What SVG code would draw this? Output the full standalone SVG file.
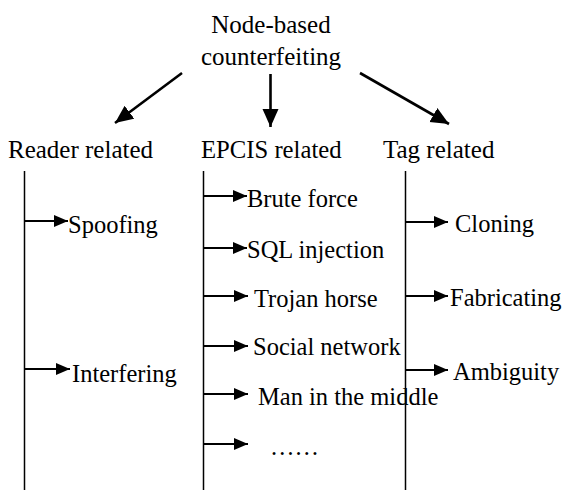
<svg xmlns="http://www.w3.org/2000/svg" width="566" height="490" viewBox="0 0 566 490">
<defs>
<marker id="sm" markerUnits="userSpaceOnUse" markerWidth="15" markerHeight="13" refX="14" refY="6" orient="auto" viewBox="0 0 15 13">
<path d="M0,0 L14,6 L0,12 z" fill="#000"/>
</marker>
<marker id="bm" markerUnits="userSpaceOnUse" markerWidth="19" markerHeight="17" refX="18" refY="8" orient="auto" viewBox="0 0 19 17">
<path d="M0,0 L18,8 L0,16 z" fill="#000"/>
</marker>
</defs>
<g id="nodes" font-family="Liberation Serif" fill="#000">
<g id="root" font-size="25"><text x="271" y="33" text-anchor="middle">Node-based</text><text x="271" y="65" text-anchor="middle">counterfeiting</text></g>
<g id="reader" font-size="25"><text x="8" y="158">Reader related</text></g>
<g id="epcis" font-size="24.7"><text x="201" y="158">EPCIS related</text></g>
<g id="tag" font-size="25"><text x="383" y="158">Tag related</text></g>
<g id="items" font-size="24.5">
<g id="spoofing"><text x="68" y="233">Spoofing</text></g>
<g id="interfering"><text x="72" y="382">Interfering</text></g>
<g id="brute"><text x="247" y="207">Brute force</text></g>
<g id="sql"><text x="247" y="258">SQL injection</text></g>
<g id="trojan"><text x="254" y="307">Trojan horse</text></g>
<g id="social"><text x="253" y="355">Social network</text></g>
<g id="mitm"><text x="258" y="405">Man in the middle</text></g>
<g id="more"><text x="270" y="455">……</text></g>
<g id="cloning"><text x="455" y="232">Cloning</text></g>
<g id="fabricating"><text x="450" y="306">Fabricating</text></g>
<g id="ambiguity"><text x="453" y="380">Ambiguity</text></g>
</g>
</g>
<g id="connectors" stroke="#000" fill="none">
<g stroke-width="2.6" marker-end="url(#bm)">
<line x1="182" y1="73" x2="115" y2="123"/>
<line x1="270.5" y1="74" x2="270.5" y2="127"/>
<line x1="360" y1="73" x2="449" y2="124"/>
</g>
<g stroke-width="1.5">
<line x1="24.5" y1="171" x2="24.5" y2="490"/>
<line x1="203.5" y1="171" x2="203.5" y2="490"/>
<line x1="405.5" y1="171" x2="405.5" y2="490"/>
</g>
<g stroke-width="2" marker-end="url(#sm)">
<line x1="24.5" y1="221" x2="68" y2="221"/>
<line x1="24.5" y1="369" x2="70" y2="369"/>
<line x1="203.5" y1="196" x2="247" y2="196"/>
<line x1="203.5" y1="248" x2="247" y2="248"/>
<line x1="203.5" y1="296" x2="248" y2="296"/>
<line x1="203.5" y1="346" x2="248" y2="346"/>
<line x1="203.5" y1="394" x2="248" y2="394"/>
<line x1="203.5" y1="444" x2="248" y2="444"/>
<line x1="405.5" y1="222" x2="448" y2="222"/>
<line x1="405.5" y1="296" x2="448" y2="296"/>
<line x1="405.5" y1="370" x2="448" y2="370"/>
</g>
</g>
</svg>
